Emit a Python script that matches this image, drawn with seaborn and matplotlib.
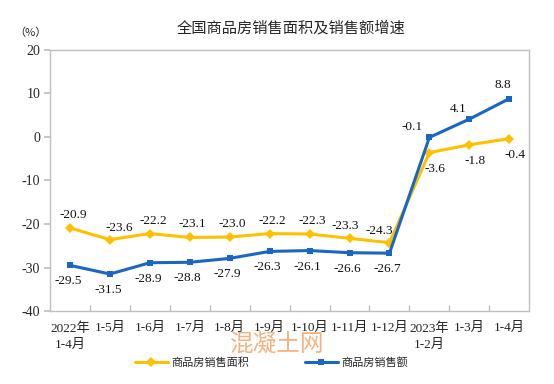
import matplotlib
matplotlib.use("Agg")
import matplotlib.pyplot as plt
import seaborn as sns
import pandas as pd
import numpy as np

# 数据
categories = ['2022年\n1-4月', '1-5月', '1-6月', '1-7月', '1-8月', '1-9月', '1-10月',
              '1-11月', '1-12月', '2023年\n1-2月', '1-3月', '1-4月']
area_growth = [-20.9, -23.6, -22.2, -23.1, -23.0, -22.2, -22.3, -23.3, -24.3, -3.6, -1.8, -0.4]
sales_growth = [-29.5, -31.5, -28.9, -28.8, -27.9, -26.3, -26.1, -26.6, -26.7, -0.1, 4.1, 8.8]
y_ticks = [-40, -30, -20, -10, 0, 10, 20]

sns.set_theme(style='white')
plt.rcParams['font.family'] = ['Liberation Serif', 'Noto Sans CJK SC', 'DejaVu Sans']
plt.rcParams['axes.unicode_minus'] = False

yellow = '#FFC000'
blue = '#1A66C4'

df = pd.DataFrame({
    'pos': list(range(len(categories))) * 2,
    'value': area_growth + sales_growth,
    'series': ['商品房销售面积'] * len(categories) + ['商品房销售额'] * len(categories),
})

fig = plt.figure(figsize=(5.54, 3.84), dpi=100)
ax = fig.add_axes([0.0903, 0.190, 0.865, 0.680])

sns.lineplot(data=df, x='pos', y='value', hue='series', style='series',
             palette=[yellow, blue], markers=['D', 's'], dashes=False,
             linewidth=2.2, markersize=5, markeredgewidth=0, ax=ax, legend=False)

ax.set_xlim(-0.5, len(categories) - 0.5)
ax.set_ylim(-40, 20)
ax.set_yticks(y_ticks)
ax.set_yticklabels([str(v) for v in y_ticks], fontsize=10)
ax.set_xticks(range(len(categories)))
ax.set_xticklabels(categories, fontsize=9.5, color='#222222', linespacing=1.5)
ax.set_xticks(np.arange(0.5, len(categories) - 0.5, 1), minor=True)
ax.tick_params(axis='x', which='major', length=0, pad=8)
ax.tick_params(axis='x', which='minor', direction='in', length=4, color='#bfbfbf', bottom=True)
ax.tick_params(axis='y', which='major', direction='out', length=4, color='#bfbfbf', left=True, pad=3)
ax.set_xlabel('')
ax.set_ylabel('')
for sp in ax.spines.values():
    sp.set_color('#bfbfbf')
    sp.set_linewidth(1.0)

# 数据标签（像素偏移）
k = 0.72
area_off = {1: (9, 12), 7: (-4, 12), 8: (-10, 12), 9: (6, -16), 10: (6, -16), 11: (6, -16)}
for i, v in enumerate(area_growth):
    off = area_off.get(i, (3, 13))
    ax.annotate(f'{v:.1f}', (i, v), xytext=(off[0] * k, off[1] * k), textcoords='offset points',
                ha='center', va='center', fontsize=9.5, color='#111111')
sales_off = {9: (-17, 10), 10: (-11, 10), 11: (-6, 14)}
for i, v in enumerate(sales_growth):
    off = sales_off.get(i, (-2, -16))
    ax.annotate(f'{v:.1f}', (i, v), xytext=(off[0] * k, off[1] * k), textcoords='offset points',
                ha='center', va='center', fontsize=9.5, color='#111111')

fig.text(0.525, 0.928, '全国商品房销售面积及销售额增速', ha='center', va='center', fontsize=11,
         family=['Noto Sans CJK SC', 'DejaVu Sans'])
fig.text(0.055, 0.915, '（%）', ha='center', va='center', fontsize=8,
         family=['Noto Sans CJK SC', 'DejaVu Sans'])

# 水印
fig.text(0.50, 0.102, '混凝土网', ha='center', va='center', fontsize=17, color='#F2A56A',
         alpha=0.85, family=['Noto Sans CJK SC', 'DejaVu Sans'])

handles = [plt.Line2D([], [], color=yellow, marker='D', markersize=5, lw=2.2, markeredgewidth=0),
           plt.Line2D([], [], color=blue, marker='s', markersize=5, lw=2.2, markeredgewidth=0)]
fig.legend(handles, ['商品房销售面积', '商品房销售额'], loc='center', bbox_to_anchor=(0.49, 0.055),
           ncol=2, frameon=False, fontsize=8, columnspacing=5, handlelength=3, handletextpad=0.3,
           prop={'family': ['Noto Sans CJK SC', 'DejaVu Sans'], 'size': 8})

fig.savefig('out.png', dpi=100)
